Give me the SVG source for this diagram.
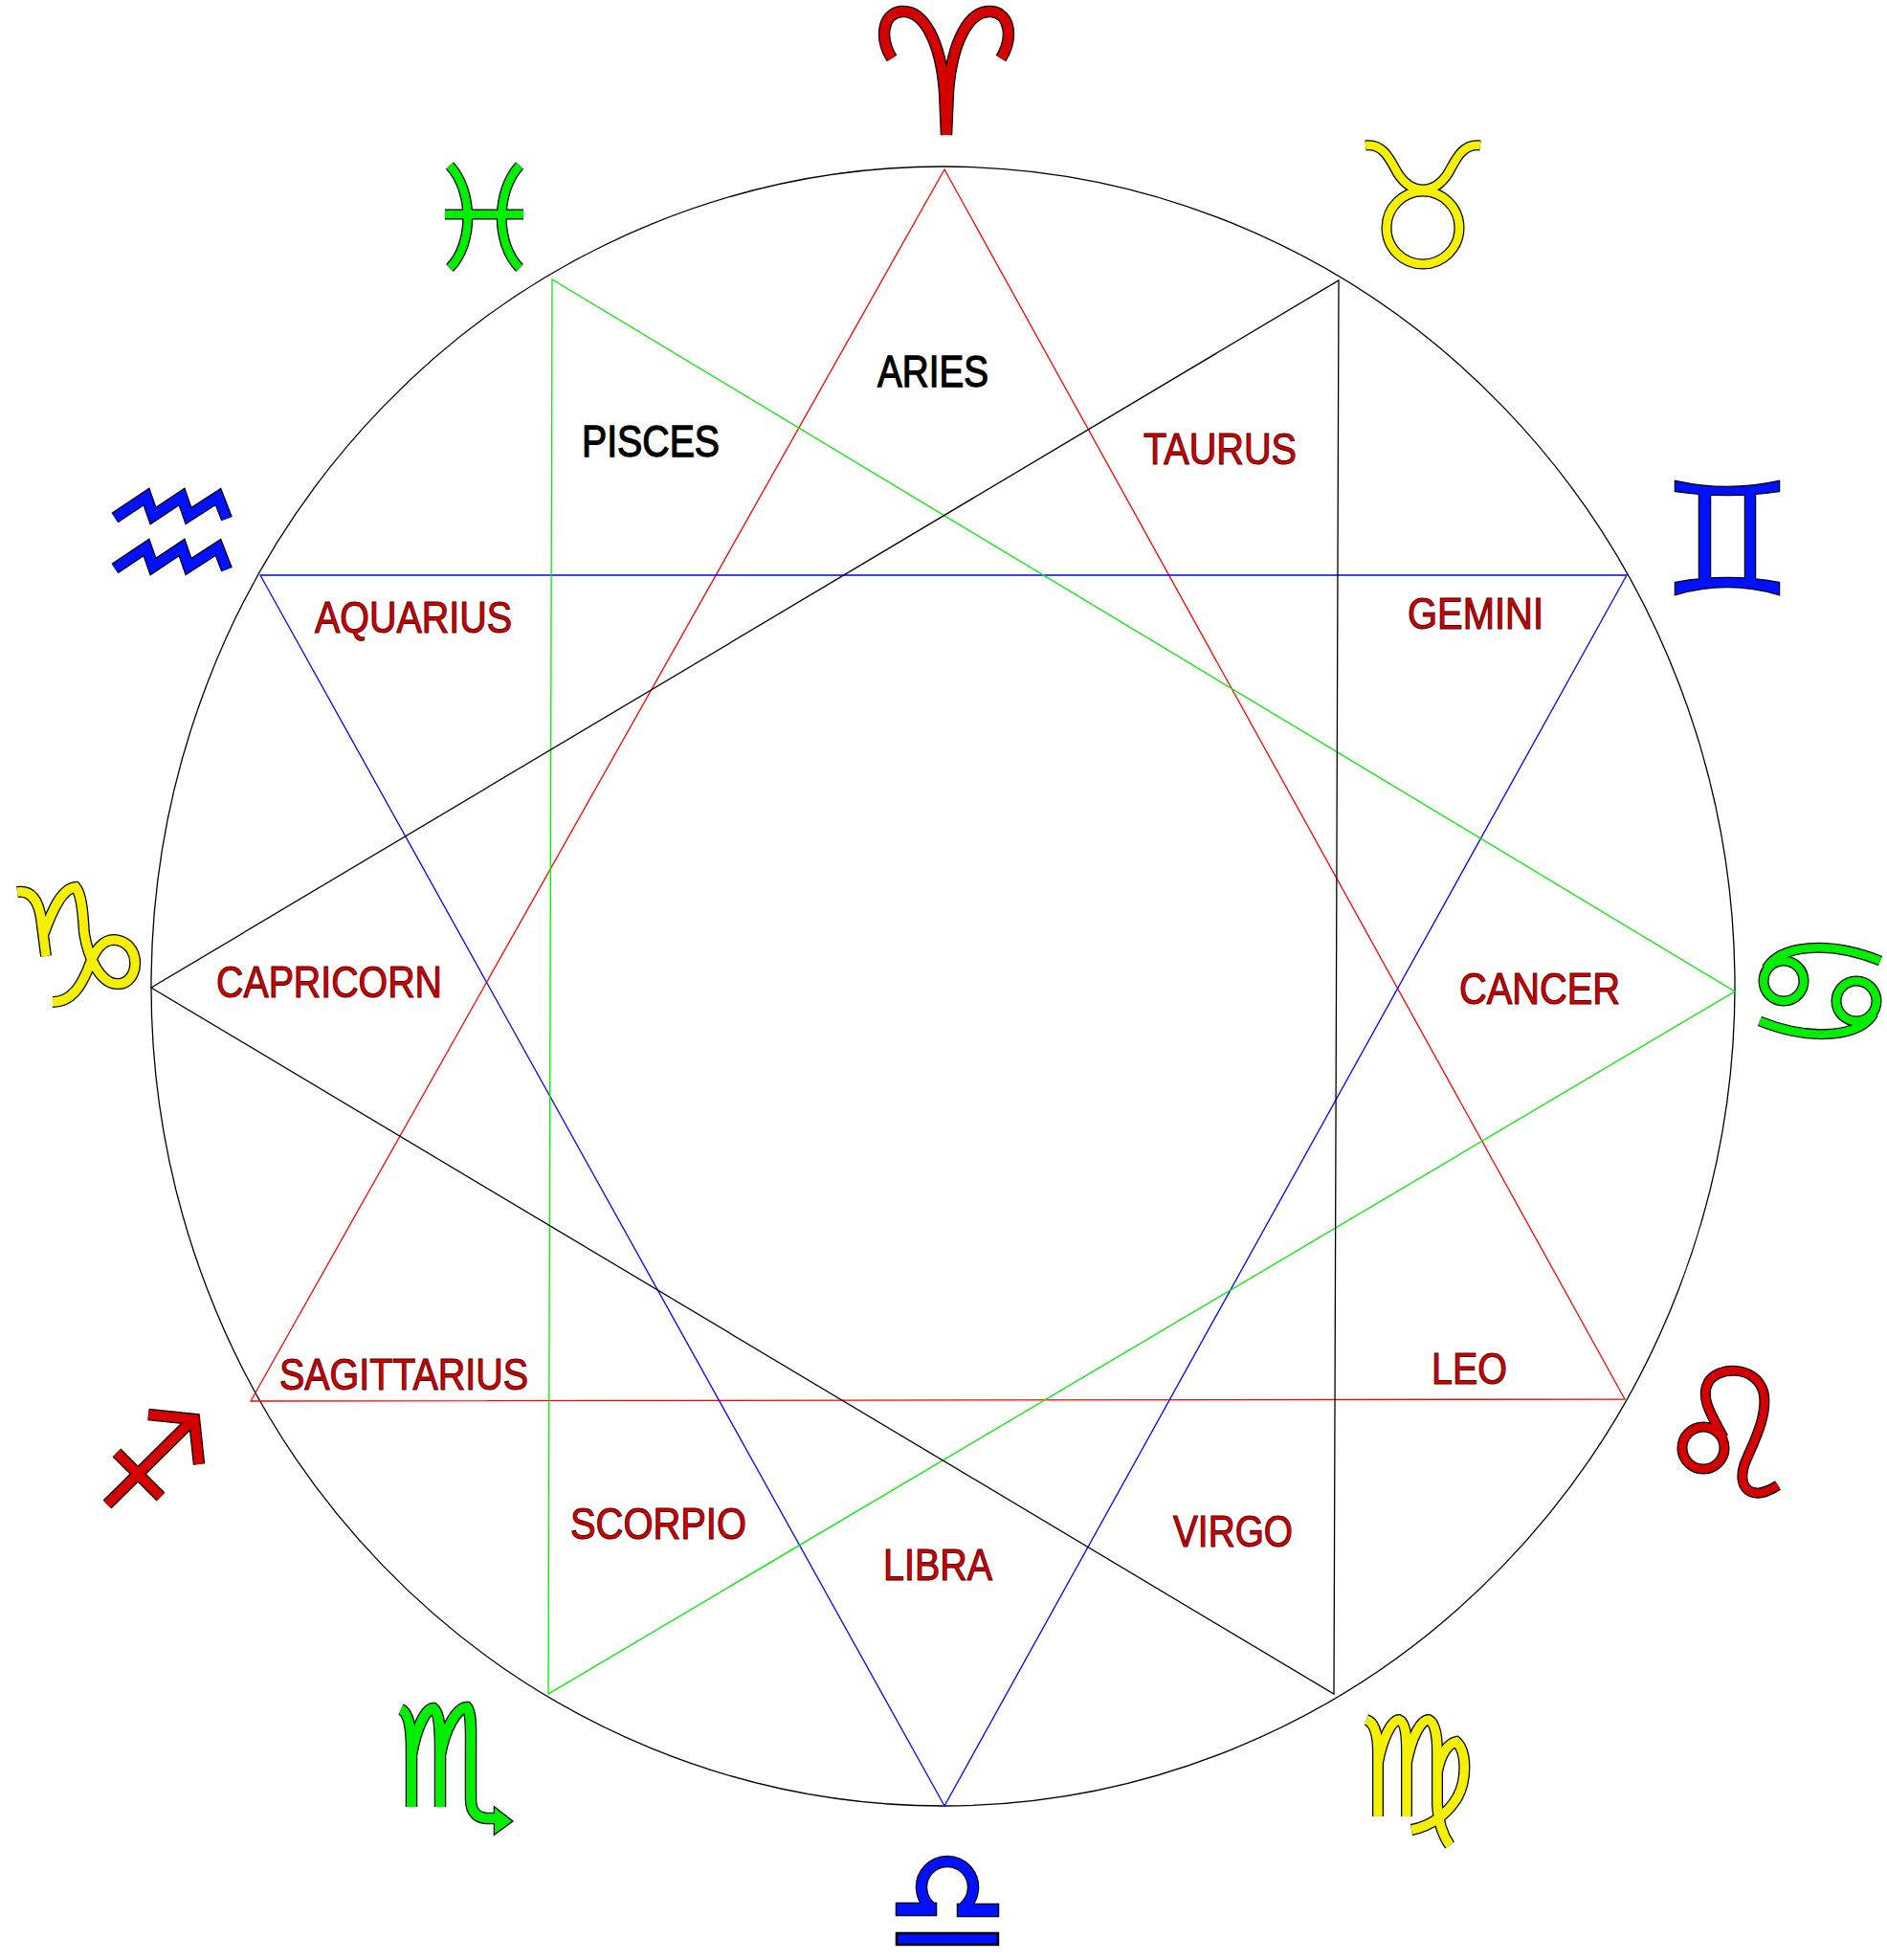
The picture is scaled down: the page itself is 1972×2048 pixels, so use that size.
<svg xmlns="http://www.w3.org/2000/svg" xmlns:xlink="http://www.w3.org/1999/xlink" width="1972" height="2048" viewBox="0 0 1972 2048">
<style>
.bg{fill:#fff}
.wheel{fill:none;stroke:#000;stroke-width:1.3}
.tri{fill:none;stroke-width:1.3;stroke-linejoin:miter}
.lbl{font-family:'Liberation Sans',Arial,sans-serif;font-size:46px}
.red-t{fill:#d40000;stroke:#5a0000;stroke-width:1.1}
.blk-t{fill:#000;stroke:#000;stroke-width:1.3}
.ol{fill:none;stroke:#000;stroke-linejoin:miter;stroke-linecap:butt}
.s{fill:none;stroke-linejoin:miter;stroke-linecap:butt}
.of{stroke:#000;stroke-width:2.5;stroke-linejoin:miter}
.ff{stroke:none}
.cr{stroke:#d40000}.cy{stroke:#f5f000}.cg{stroke:#00ee00}.cb{stroke:#0011ff}
.fr{fill:#d40000}.fy{fill:#f5f000}.fg{fill:#00ee00}.fb{fill:#0011ff}
</style>
<defs>
<path id="p-aries" d="M932,61 C919,40 922,14 942,12 C966,10 983,45 987,95 L989,141 M1046,61 C1059,40 1056,14 1036,12 C1012,10 995,45 991,95 L989,141"/>
<path id="p-taurus" d="M1427,152 C1445,150 1452,165 1460,180 C1468,193 1478,198 1487,198 C1496,198 1506,193 1514,180 C1522,165 1529,150 1547,152 M1525,238 A38,38 0 1,1 1449,238 A38,38 0 1,1 1525,238 Z"/>
<path id="p-gemini" d="M1751,503 Q1805,515 1859,503 L1859,513 Q1805,521 1751,513 Z M1751,609 Q1805,599 1859,609 L1859,621 Q1805,605 1751,621 Z M1776,512 L1787,512 L1787,610 L1776,610 Z M1824,512 L1834,512 L1834,610 L1824,610 Z"/>
<path id="p-cancer" d="M1846,1012 C1860,988 1910,982 1965,1004 M1885,1025 A21,21 0 1,1 1843,1025 A21,21 0 1,1 1885,1025 Z M1958,1059 C1944,1083 1894,1089 1839,1067 M1961,1046 A21,21 0 1,1 1919,1046 A21,21 0 1,1 1961,1046 Z"/>
<path id="p-leo" d="M1801,1502 C1791,1482 1776,1462 1785,1445 C1793,1428 1835,1425 1843,1455 C1848,1480 1831,1510 1823,1530 C1815,1555 1830,1570 1858,1552 M1802,1513 A22,22 0 1,1 1758,1513 A22,22 0 1,1 1802,1513 Z"/>
<path id="p-virgo" d="M1428,1797 C1437,1800 1440,1815 1440,1830 L1440,1898 M1440,1842 C1445,1815 1455,1797 1462,1797 C1469,1800 1470,1815 1470,1830 L1470,1898 M1470,1842 C1475,1815 1485,1797 1493,1797 C1500,1800 1502,1815 1502,1830 L1502,1885 C1503,1905 1508,1918 1515,1928 M1502,1852 C1505,1835 1512,1822 1522,1820 C1533,1830 1533,1860 1523,1878 C1513,1895 1496,1908 1475,1912"/>
<path id="p-scorpio" d="M419,1786 C428,1790 430,1810 430,1830 L430,1888 M430,1834 C435,1805 445,1785 453,1785 C460,1790 460,1810 460,1830 L460,1888 M460,1834 C465,1805 478,1784 488,1784 C493,1790 492,1810 492,1830 L492,1880 C492,1895 500,1900 510,1900 L522,1900"/>
<path id="p-sag" d="M112,1572 L200,1485 M155,1478 L203,1483 L208,1530 M122,1518 L168,1564"/>
<path id="p-cap" d="M18,932 C32,930 40,940 43,960 L48,999 M46,975 C55,950 65,928 79,927 C86,935 87,960 88,975 C92,1000 105,1030 125,1028 C145,1026 148,990 125,983 C108,978 98,995 93,1010 C85,1030 75,1047 55,1047"/>
<path id="p-aqu" d="M120,541 L153,519 L160,539 L190,519 L197,539 L228,519 L237,542 M120,594 L153,572 L160,592 L190,572 L197,592 L228,572 L237,595"/>
<path id="p-pisces" d="M470,173 C495,200 495,255 470,280 M543,173 C518,200 518,255 543,280 M465,224 L547,224"/>
</defs>
<rect class="bg" x="0" y="0" width="1972" height="2048"/>
<g id="wheel">
<ellipse class="wheel" cx="985.5" cy="1030.5" rx="827.5" ry="856.5"/>
</g>
<g id="connectors">
<polygon class="tri" stroke="#ff0000" points="987,177 1698,1462 262,1464"/>
<polygon class="tri" stroke="#0000ff" points="1700,601 987,1887 272,601"/>
<polygon class="tri" stroke="#00ee00" points="577,292 1813,1036 573,1770"/>
<polygon class="tri" stroke="#000000" points="1399,293 1394,1770 158,1032"/>
</g>
<g id="aries">
<use xlink:href="#p-aries" class="ol" style="stroke-width:12.5"/>
<use xlink:href="#p-aries" class="s cr" style="stroke-width:10"/>
<text class="lbl blk-t" x="917" y="404" textLength="116" lengthAdjust="spacingAndGlyphs">ARIES</text>
</g>
<g id="taurus">
<use xlink:href="#p-taurus" class="ol" style="stroke-width:11"/>
<use xlink:href="#p-taurus" class="s cy" style="stroke-width:8.5"/>
<text class="lbl red-t" x="1195" y="485" textLength="160" lengthAdjust="spacingAndGlyphs">TAURUS</text>
</g>
<g id="gemini">
<use xlink:href="#p-gemini" class="of fb"/>
<use xlink:href="#p-gemini" class="ff fb"/>
<text class="lbl red-t" x="1471" y="657" textLength="142" lengthAdjust="spacingAndGlyphs">GEMINI</text>
</g>
<g id="cancer">
<use xlink:href="#p-cancer" class="ol" style="stroke-width:11"/>
<use xlink:href="#p-cancer" class="s cg" style="stroke-width:8.5"/>
<text class="lbl red-t" x="1525" y="1049" textLength="168" lengthAdjust="spacingAndGlyphs">CANCER</text>
</g>
<g id="leo">
<use xlink:href="#p-leo" class="ol" style="stroke-width:11"/>
<use xlink:href="#p-leo" class="s cr" style="stroke-width:8.5"/>
<text class="lbl red-t" x="1496" y="1446" textLength="79" lengthAdjust="spacingAndGlyphs">LEO</text>
</g>
<g id="virgo">
<use xlink:href="#p-virgo" class="ol" style="stroke-width:12"/>
<use xlink:href="#p-virgo" class="s cy" style="stroke-width:9.5"/>
<text class="lbl red-t" x="1226" y="1616" textLength="125" lengthAdjust="spacingAndGlyphs">VIRGO</text>
</g>
<g id="libra">
<path class="ol" style="stroke-width:12.5" d="M973,1993 A27,27 0 1,1 1007,1993"/>
<rect class="of fb" x="937" y="1989" width="41" height="12"/>
<rect class="of fb" x="1001" y="1990" width="42" height="12"/>
<rect class="of fb" x="937" y="2020" width="106" height="12"/>
<path class="s cb" style="stroke-width:10" d="M973,1993 A27,27 0 1,1 1007,1993"/>
<rect class="ff fb" x="937" y="1989" width="41" height="12"/>
<rect class="ff fb" x="1001" y="1990" width="42" height="12"/>
<text class="lbl red-t" x="923" y="1651" textLength="114" lengthAdjust="spacingAndGlyphs">LIBRA</text>
</g>
<g id="scorpio">
<use xlink:href="#p-scorpio" class="ol" style="stroke-width:12.5"/>
<polygon class="of fg" points="517,1889 535,1903 517,1916"/>
<use xlink:href="#p-scorpio" class="s cg" style="stroke-width:10"/>
<polygon class="ff fg" points="517,1889 535,1903 517,1916"/>
<text class="lbl red-t" x="596" y="1608" textLength="184" lengthAdjust="spacingAndGlyphs">SCORPIO</text>
</g>
<g id="sagittarius">
<use xlink:href="#p-sag" class="ol" style="stroke-width:12.5"/>
<use xlink:href="#p-sag" class="s cr" style="stroke-width:10"/>
<text class="lbl red-t" x="292" y="1452" textLength="260" lengthAdjust="spacingAndGlyphs">SAGITTARIUS</text>
</g>
<g id="capricorn">
<use xlink:href="#p-cap" class="ol" style="stroke-width:12"/>
<use xlink:href="#p-cap" class="s cy" style="stroke-width:9.5"/>
<text class="lbl red-t" x="226" y="1042" textLength="236" lengthAdjust="spacingAndGlyphs">CAPRICORN</text>
</g>
<g id="aquarius">
<use xlink:href="#p-aqu" class="ol" style="stroke-width:12.5"/>
<use xlink:href="#p-aqu" class="s cb" style="stroke-width:10"/>
<text class="lbl red-t" x="329" y="661" textLength="206" lengthAdjust="spacingAndGlyphs">AQUARIUS</text>
</g>
<g id="pisces">
<use xlink:href="#p-pisces" class="ol" style="stroke-width:11"/>
<use xlink:href="#p-pisces" class="s cg" style="stroke-width:8.5"/>
<text class="lbl blk-t" x="608" y="477" textLength="144" lengthAdjust="spacingAndGlyphs">PISCES</text>
</g>
</svg>
